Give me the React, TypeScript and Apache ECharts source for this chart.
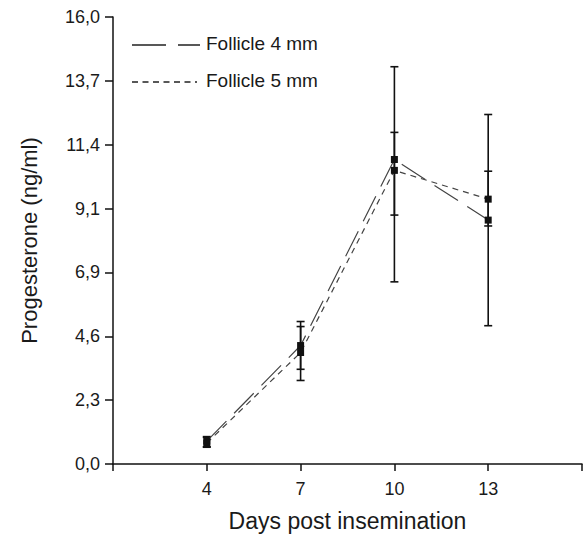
import React, { useEffect, useRef } from "react";
import * as echarts from "echarts";

const days = [4, 7, 10, 13];
const follicle4 = [0.82, 4.24, 10.9, 8.73];
const follicle5 = [0.75, 3.99, 10.51, 9.48];
const low4 = [0.62, 2.99, 6.52, 4.95];
const high4 = [0.98, 5.1, 14.22, 12.51];
const low5 = [0.6, 3.39, 8.91, 8.52];
const high5 = [0.95, 4.92, 11.87, 10.48];
const yTicks = [0, 16 / 7, 32 / 7, 48 / 7, 64 / 7, 80 / 7, 96 / 7, 16];
const seriesNames = ["Follicle 4 mm", "Follicle 5 mm"];

const FONT = "'Liberation Sans', Arial, sans-serif";
const TXT = "#1a1a1a";

function errorBars(lows: number[], highs: number[]) {
  return days.map((d, i) => [d, lows[i], highs[i]]);
}

const renderErr = (params: any, api: any) => {
  const x = api.value(0);
  const lo = api.coord([x, api.value(1)]);
  const hi = api.coord([x, api.value(2)]);
  const w = 4;
  const style = { stroke: "#111", lineWidth: 1.6 };
  return {
    type: "group",
    children: [
      { type: "line", shape: { x1: lo[0], y1: lo[1], x2: hi[0], y2: hi[1] }, style },
      { type: "line", shape: { x1: lo[0] - w, y1: lo[1], x2: lo[0] + w, y2: lo[1] }, style },
      { type: "line", shape: { x1: hi[0] - w, y1: hi[1], x2: hi[0] + w, y2: hi[1] }, style },
    ],
  };
};

export default function App() {
  const ref = useRef<HTMLDivElement>(null);
  useEffect(() => {
    if (!ref.current) return;
    const chart = echarts.init(ref.current, undefined, { renderer: "svg" });
    chart.setOption({
      animation: false,
      backgroundColor: "#fff",
      textStyle: { fontFamily: FONT },
      grid: { left: 113, right: 4, top: 17, bottom: 70 },
      xAxis: {
        type: "value",
        min: 1,
        max: 16,
        interval: 3,
        name: "Days post insemination",
        nameLocation: "middle",
        nameGap: 45,
        nameTextStyle: { fontSize: 23, color: TXT, fontFamily: FONT },
        axisLine: { show: true, lineStyle: { color: "#111", width: 1.5 } },
        axisTick: { show: true, length: 7, lineStyle: { color: "#111", width: 1.5 } },
        axisLabel: {
          fontSize: 18,
          color: TXT,
          margin: 16,
          fontFamily: FONT,
          formatter: (v: number) => (v === 1 || v === 16 ? "" : String(v)),
        },
        splitLine: { show: false },
      },
      yAxis: {
        type: "value",
        min: 0,
        max: 16,
        name: "Progesterone (ng/ml)",
        nameLocation: "middle",
        nameGap: 73,
        nameTextStyle: { fontSize: 22, color: TXT, fontFamily: FONT },
        axisLine: { show: true, lineStyle: { color: "#111", width: 1.5 } },
        axisTick: {
          show: true,
          length: 8,
          customValues: yTicks,
          lineStyle: { color: "#111", width: 1.5 },
        },
        axisLabel: {
          fontSize: 18,
          color: TXT,
          margin: 13,
          fontFamily: FONT,
          customValues: yTicks,
          formatter: (v: number) => v.toFixed(1).replace(".", ","),
        },
        splitLine: { show: false },
      },
      graphic: [
        {
          type: "line",
          shape: { x1: 132, y1: 45, x2: 200, y2: 45 },
          style: { stroke: "#222", lineWidth: 1.5, lineDash: [34, 12] },
        },
        {
          type: "text",
          left: 206,
          top: 34,
          style: { text: seriesNames[0], fontSize: 19, fill: TXT, fontFamily: FONT },
        },
        {
          type: "line",
          shape: { x1: 132, y1: 82, x2: 197, y2: 82 },
          style: { stroke: "#222", lineWidth: 1.5, lineDash: [6, 4.5] },
        },
        {
          type: "text",
          left: 206,
          top: 71,
          style: { text: seriesNames[1], fontSize: 19, fill: TXT, fontFamily: FONT },
        },
      ],
      series: [
        {
          type: "custom",
          renderItem: renderErr,
          data: errorBars(low4, high4),
          encode: { x: 0, y: [1, 2] },
          z: 3,
        },
        {
          type: "custom",
          renderItem: renderErr,
          data: errorBars(low5, high5),
          encode: { x: 0, y: [1, 2] },
          z: 3,
        },
        {
          name: seriesNames[0],
          type: "line",
          data: days.map((d, i) => [d, follicle4[i]]),
          symbol: "rect",
          symbolSize: 7,
          itemStyle: { color: "#111" },
          lineStyle: { color: "#444", width: 1.2, type: [28, 11] },
          z: 4,
        },
        {
          name: seriesNames[1],
          type: "line",
          data: days.map((d, i) => [d, follicle5[i]]),
          symbol: "rect",
          symbolSize: 7,
          itemStyle: { color: "#111" },
          lineStyle: { color: "#444", width: 1.2, type: [6, 5] },
          z: 4,
        },
      ],
    });
    return () => chart.dispose();
  }, []);
  return (
    <div
      ref={ref}
      style={{ position: "fixed", left: 0, top: 0, width: 586, height: 537 }}
    />
  );
}
